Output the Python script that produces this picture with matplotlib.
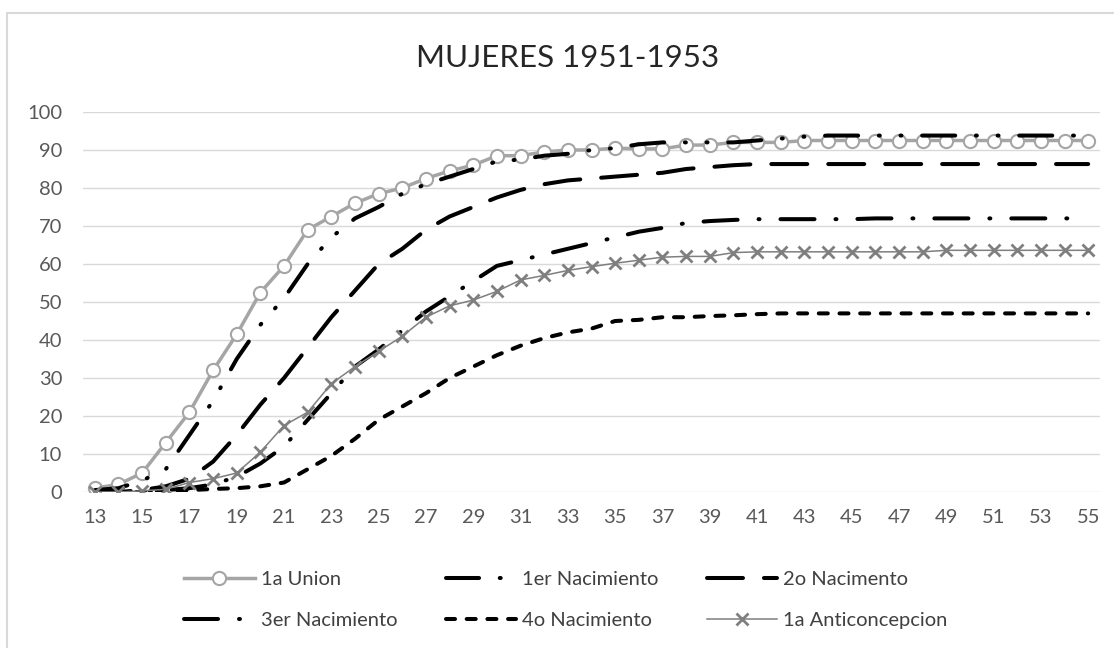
import matplotlib
matplotlib.use("Agg")
import matplotlib.pyplot as plt
from matplotlib.patches import Rectangle

plt.rcParams['font.family'] = ['Lato', 'DejaVu Sans']
plt.rcParams['lines.scale_dashes'] = False

# Data (edad, porcentaje acumulado)
edades = list(range(13, 56))
union = [1, 2, 5, 13, 21, 32, 41.5, 52.5, 59.5, 69, 72.5, 76, 78.5, 80, 82.5, 84.5, 86, 88.5, 88.5, 89.5,
         90, 90, 90.5, 90.3, 90.3, 91.3, 91.3, 92, 92, 92] + [92.5] * 13
nac1 = [0.5, 1, 3, 6, 15, 24, 35, 44, 51, 60, 67, 72, 75, 78.5, 81, 83, 85, 87, 87.5, 88.5,
        89, 90, 90.5, 91.5, 92, 92, 92, 92, 92.5, 93, 93.5] + [93.8] * 12
nac2 = [0, 0, 0.5, 1.5, 3.5, 8, 15, 23, 30, 38, 46, 53, 60, 64, 69, 72.5, 75, 77.5, 79.5, 81,
        82, 82.5, 83, 83.5, 84, 85, 85.5, 86] + [86.3] * 15
nac3 = [0, 0, 0, 0.5, 1, 2, 4, 7.5, 12, 19, 26, 33, 37.5, 42.5, 47.5, 51.5, 55.5, 59.5, 61, 62.5,
        64, 65.5, 67, 68.5, 69.5, 70.8, 71.3, 71.6] + [71.8] * 5 + [72] * 10
nac4 = [0, 0, 0, 0.3, 0.5, 0.8, 1, 1.5, 2.5, 6, 9.5, 14, 19, 22.5, 26, 30, 33, 36, 38.5, 40.5,
        42, 43, 45, 45.3, 46, 46, 46.3, 46.5, 46.8] + [47] * 14
anti = [0, 0, 0.3, 0.7, 2.5, 3.5, 5, 10.5, 17.5, 21, 28.5, 33, 37, 41, 46, 49, 50.5, 52.8, 55.8, 57,
        58.3, 59.3, 60.2, 61, 61.8, 62, 62, 63] + [63.2] * 8 + [63.6] * 7

fig = plt.figure(figsize=(11.14, 6.48), dpi=100)
W, H = 1114, 648
ax = fig.add_axes([83 / W, 1 - 492 / H, (1100 - 83) / W, (492 - 112) / H])

# Series
l_union, = ax.plot(edades, union, color='#A5A5A5', lw=2.5, marker='o', markersize=9.5,
                   markerfacecolor='white', markeredgecolor='#A5A5A5', markeredgewidth=1.5,
                   label='1a Union')
l_nac1, = ax.plot(edades, nac1, color='black', lw=2.9, dash_capstyle='round',
                  dashes=(23.8, 14.9, 0.7, 14.9, 0.7, 14.9), label='1er Nacimiento')
l_nac2, = ax.plot(edades, nac2, color='black', lw=2.9, dash_capstyle='round',
                  dashes=(25.9, 15.1), label='2o Nacimento')
l_nac3, = ax.plot(edades, nac3, color='black', lw=2.9, dash_capstyle='round',
                  dashes=(24.5, 15.1, 0.7, 15.1), label='3er Nacimiento')
l_nac4, = ax.plot(edades, nac4, color='black', lw=2.9, dash_capstyle='round',
                  dashes=(6.5, 8.4), label='4o Nacimiento')
l_anti, = ax.plot(edades, anti, color='#7F7F7F', lw=1.1, marker='x', markersize=9,
                  markeredgewidth=2, label='1a Anticoncepcion')

# Axes styling
ax.set_xlim(12.5, 55.5)
ax.set_ylim(0, 100)
ax.set_xticks(edades[::2])
ax.set_yticks(range(0, 101, 10))
ax.grid(axis='y', color='#D9D9D9', lw=1)
ax.set_axisbelow(True)
for s in ax.spines.values():
    s.set_visible(False)
ax.tick_params(axis='both', length=0, labelsize=14.5, labelcolor='#595959')
ax.tick_params(axis='y', pad=15)
ax.tick_params(axis='x', pad=12)

# Title
fig.text(568 / W, 1 - 58 / H, 'MUJERES 1951-1953', ha='center', va='center', fontsize=22.5, color='#262626')

# Legend (Excel order across rows)
handles = [l_union, l_nac3, l_nac1, l_nac4, l_nac2, l_anti]
fig.legend(handles, [h.get_label() for h in handles], ncol=3, loc='center',
           bbox_to_anchor=(566 / W, 1 - 600 / H), frameon=False, fontsize=14.5,
           handlelength=3.5, handletextpad=0.3, columnspacing=2.4, labelspacing=1.2,
           labelcolor='#404040')

# Chart border
fig.patches.append(Rectangle((7 / W, -0.1), 1.2, 1 - 13 / H + 0.1, transform=fig.transFigure,
                             fill=False, edgecolor='#D9D9D9', lw=1.5))

plt.savefig('out.png', dpi=100)
